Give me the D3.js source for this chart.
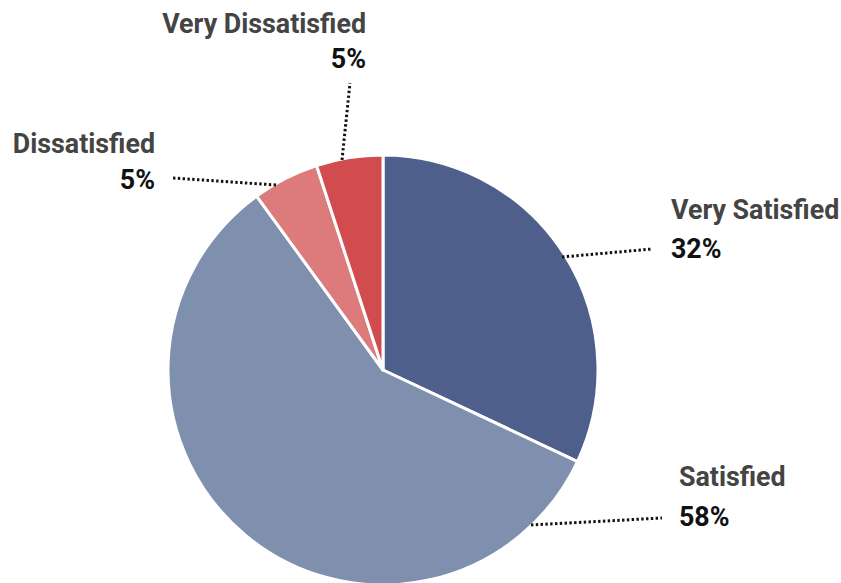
<!DOCTYPE html>
<html><head><meta charset="utf-8">
<script src="https://cdn.jsdelivr.net/npm/d3@7"></script>
<style>body{margin:0;background:#fff}svg{display:block}</style>
</head><body>
<svg id="c" width="841" height="583"></svg>
<script>
const categories = ["Very Satisfied", "Satisfied", "Dissatisfied", "Very Dissatisfied"];
const values = [32, 58, 5, 5];
const colors = ["#4d5f8a", "#7f8fae", "#dd7b7c", "#d14b4f"];

const svg = d3.select("#c");
const cx = 383, cy = 370, R = 215;
const g = svg.append("g").attr("transform", `translate(${cx},${cy})`);
const data = categories.map((c, i) => ({cat: c, v: values[i], color: colors[i]}));
const pie = d3.pie().value(d => d.v).sort(null);
const arcs = pie(data);
const arc = d3.arc().innerRadius(0).outerRadius(R);
g.selectAll("path").data(arcs).join("path")
  .attr("d", arc).attr("fill", d => d.data.color)
  .attr("stroke", "#fff").attr("stroke-width", 3).attr("stroke-linejoin", "round");

const layout = {
  "Very Satisfied":   {lineEnd: [652, 249], anchor: "start", tx: 671, nameY: 219, pctY: 258},
  "Satisfied":        {lineEnd: [662, 518], anchor: "start", tx: 679, nameY: 486, pctY: 526},
  "Dissatisfied":     {lineEnd: [173, 178], anchor: "end", tx: 155, nameY: 153, pctY: 189},
  "Very Dissatisfied":{lineEnd: [350, 83], anchor: "end", tx: 366, nameY: 33, pctY: 68}
};
const startPts = {
  "Very Satisfied": [562, 257],
  "Satisfied": [531, 525],
  "Dissatisfied": [276, 185],
  "Very Dissatisfied": [342, 160]
};
const lab = svg.append("g");
arcs.forEach(a => {
  const L = layout[a.data.cat];
  const s = startPts[a.data.cat];
  lab.append("line").attr("x1", s[0]).attr("y1", s[1]).attr("x2", L.lineEnd[0]).attr("y2", L.lineEnd[1])
    .attr("stroke", "#111").attr("stroke-width", 3).attr("stroke-dasharray", "2.4,2.4");
  lab.append("text").attr("x", L.tx).attr("y", L.nameY).attr("text-anchor", L.anchor)
    .attr("font-family", "Roboto, sans-serif").attr("font-weight", 700).attr("font-size", 26.8)
    .attr("fill", "#444").text(a.data.cat);
  lab.append("text").attr("x", L.tx).attr("y", L.pctY).attr("text-anchor", L.anchor)
    .attr("font-family", "Roboto, sans-serif").attr("font-weight", 700).attr("font-size", 26.8)
    .attr("fill", "#111").text(a.data.v + "%");
});
</script>
</body></html>
